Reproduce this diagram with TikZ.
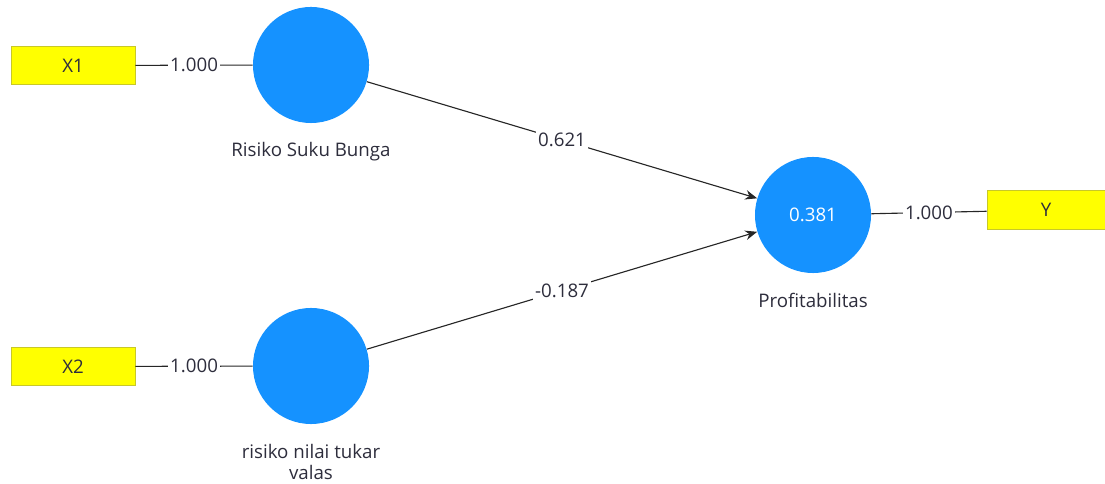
\documentclass[tikz,border=0pt]{standalone}
\usepackage{fontspec}
\setmainfont{Open Sans}
\usetikzlibrary{arrows.meta,positioning}

\definecolor{lvblue}{RGB}{21,146,255}
\definecolor{mvyellow}{RGB}{255,255,0}
\definecolor{mvborder}{RGB}{200,200,40}
\definecolor{txtgray}{RGB}{45,45,60}

\begin{document}
\begin{tikzpicture}[x=0.025cm, y=-0.025cm, >={Stealth[length=3mm,width=2.4mm]},
  font=\fontsize{13.3}{15.5}\selectfont, text=txtgray,
  latent/.style={circle, fill=lvblue, minimum size=2.9cm, inner sep=0pt, text=white},
  manifest/.style={rectangle, fill=mvyellow, draw=mvborder, line width=0.6pt, minimum width=3.1cm, minimum height=0.97cm, inner sep=0pt},
  wlabel/.style={fill=white, inner sep=1.5pt},
  link/.style={draw=black!85, line width=0.8pt}]
\path[use as bounding box] (0,0) rectangle (1105,484);
% latent variables
\node[latent] (RSB) at (311,65) {};
\node[latent] (RNT) at (311,366) {};
\node[latent] (PRF) at (813,215) {0.381};
% latent labels
\node (RSBlab) at (311,152) {Risiko Suku Bunga};
\node[align=center] (RNTlab) at (311,462) {risiko nilai tukar\\valas};
\node (PRFlab) at (813,300) {Profitabilitas};
% indicators
\node[manifest] (X1) at (73,65.5) {X1};
\node[manifest] (X2) at (73,366.5) {X2};
\node[manifest, minimum width=2.95cm] (Y) at (1046,210) {Y};
% outer loadings
\path[link] (X1) -- node[wlabel] {1.000} (RSB);
\path[link] (X2) -- node[wlabel] {1.000} (RNT);
\path[link] (PRF) -- node[wlabel] {1.000} (Y);
% path coefficients
\path[link, ->] (RSB) -- node[wlabel] {0.621} (PRF);
\path[link, ->] (RNT) -- node[wlabel] {-0.187} (PRF);
\end{tikzpicture}
\end{document}
